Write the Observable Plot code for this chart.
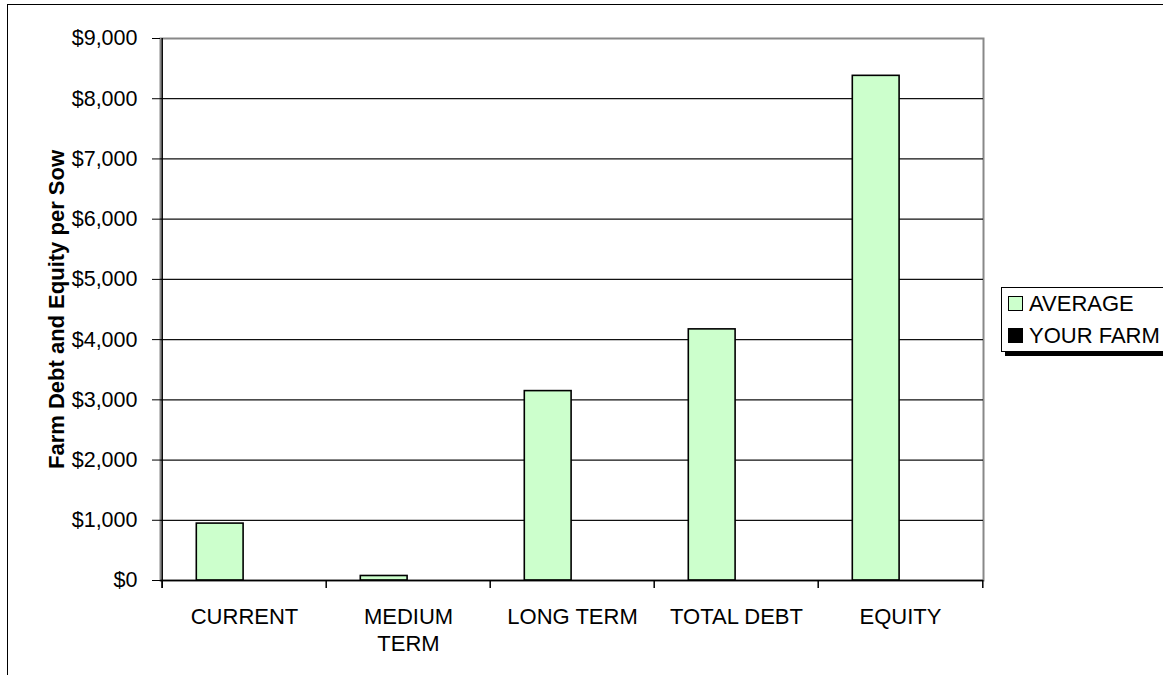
<!DOCTYPE html>
<html>
<head>
<meta charset="utf-8">
<script src="https://cdn.jsdelivr.net/npm/d3@7"></script>
<script src="https://cdn.jsdelivr.net/npm/@observablehq/plot@0.6"></script>
<style>
  html, body { margin: 0; padding: 0; background: #fff; }
  #wrap { position: relative; width: 1163px; height: 675px; overflow: hidden; font-family: "Liberation Sans", Arial, sans-serif; }
  #border { position: absolute; left: 7px; top: 4px; width: 1300px; height: 800px; border-left: 1px solid #000; border-top: 1px solid #000; }
  #chart { position: absolute; left: 0; top: 0; }
  #legend { position: absolute; left: 1001px; top: 287px; width: 220px; height: 63px; border: 1px solid #000; background: #fff; box-shadow: 4px 4px 0 #000; font-size: 22px; color: #000; }
  .item { position: absolute; left: 6px; height: 24px; line-height: 24px; white-space: nowrap; }
  .sw { display: inline-block; width: 13px; height: 13px; border: 1px solid #000; vertical-align: middle; margin-right: 6px; position: relative; top: -2px; }
</style>
</head>
<body>
<div id="wrap">
  <div id="border"></div>
  <div id="chart"></div>
  <div id="legend"></div>
</div>
<script>
const categories = ["CURRENT", "MEDIUM\nTERM", "LONG TERM", "TOTAL DEBT", "EQUITY"];
const seriesNames = ["AVERAGE", "YOUR FARM"];
const seriesColors = ["#CCFFCC", "#000000"];
const average = [945, 75, 3145, 4170, 8380];
const yourFarm = [null, null, null, null, null];
const yTicks = [0, 1000, 2000, 3000, 4000, 5000, 6000, 7000, 8000, 9000];
const yTitle = "Farm Debt and Equity per Sow";

const W = 1163, H = 675, ML = 160, MR = 180, MT = 38, MB = 95;
const band = (W - ML - MR) / categories.length;

const avgData = categories.map((c, i) => ({cat: c, value: average[i]}));
const farmData = categories.map((c, i) => ({cat: c, value: yourFarm[i]})).filter(d => d.value != null);
const font = "'Liberation Sans', Arial, sans-serif";

const chart = Plot.plot({
  width: W, height: H,
  marginLeft: ML, marginRight: MR, marginTop: MT, marginBottom: MB,
  style: {fontFamily: font, fontSize: "22px", color: "#000", background: "transparent"},
  x: {domain: categories, padding: 0, axis: null},
  y: {domain: [0, 9000], axis: null},
  marks: [
    Plot.frame({stroke: "#888", strokeWidth: 2}),
    Plot.ruleY(yTicks.filter(d => d > 0 && d < 9000), {stroke: "#111", strokeWidth: 1.2}),
    Plot.barY(avgData, {x: "cat", y: "value", fill: seriesColors[0], stroke: "#000", strokeWidth: 1.6, insetLeft: 34.3, insetRight: band - 34.3 - 47.4}),
    Plot.barY(farmData, {x: "cat", y: "value", fill: seriesColors[1], stroke: "#000", strokeWidth: 1.6, insetLeft: 81.7, insetRight: band - 81.7 - 47.4}),
    Plot.ruleY([0], {stroke: "#000", strokeWidth: 1.5}),
    Plot.ruleX([categories[0]], {x: d => d, dx: -band / 2, stroke: "#000", strokeWidth: 1.5, insetBottom: -8}),
    Plot.ruleX(categories, {x: d => d, dx: -band / 2, stroke: "#000", strokeWidth: 1.5, insetTop: H - MT - MB, insetBottom: -8}),
    Plot.ruleX([categories[categories.length - 1]], {x: d => d, dx: band / 2, stroke: "#000", strokeWidth: 1.5, insetTop: H - MT - MB, insetBottom: -8}),
    Plot.axisY({ticks: yTicks, tickFormat: d => "$" + d3.format(",")(d), tickSize: 8, tickPadding: 15, fontSize: 21.5, stroke: "#000", label: null}),
    Plot.text(categories, {x: d => d, text: d => d, frameAnchor: "bottom", lineAnchor: "top", dy: 24, lineHeight: 1.24, fontSize: 22, fill: "#000"}),
    Plot.text([yTitle], {text: d => d, frameAnchor: "left", textAnchor: "middle", lineAnchor: "middle", rotate: -90, dx: -104, fontWeight: "bold", fontSize: 22, fill: "#000"})
  ]
});
document.getElementById("chart").appendChild(chart);

const legend = document.getElementById("legend");
seriesNames.forEach((name, i) => {
  const item = document.createElement("div");
  item.className = "item";
  item.style.top = (4 + i * 32) + "px";
  const sw = document.createElement("span");
  sw.className = "sw";
  sw.style.background = seriesColors[i];
  item.appendChild(sw);
  item.appendChild(document.createTextNode(name));
  legend.appendChild(item);
});
</script>
</body>
</html>
